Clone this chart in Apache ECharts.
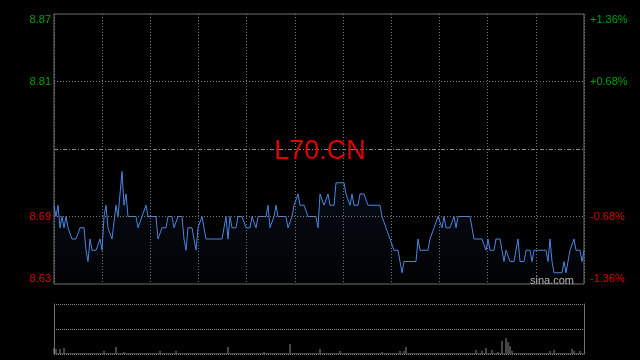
<!DOCTYPE html>
<html>
<head>
<meta charset="utf-8">
<script src="https://cdn.jsdelivr.net/npm/echarts@6/dist/echarts.min.js"></script>
<style>
html,body{margin:0;padding:0;background:#000;}
#c{width:640px;height:360px;}
</style>
</head>
<body>
<div id="c"></div>
<script>
const symbol = 'L70.CN';
const watermark = 'sina.com';
const prevClose = 8.75;
const priceTicks = [8.63, 8.69, 8.81, 8.87];
const pctTicks = [-1.36, -0.68, 0.68, 1.36];

const price = [
  8.70,8.69,8.70,8.68,8.69,8.68,8.69,8.68,8.68,8.67,
  8.67,8.67,8.67,8.68,8.68,8.68,8.66,8.65,8.67,8.66,
  8.66,8.66,8.66,8.67,8.66,8.69,8.70,8.68,8.68,8.67,
  8.67,8.70,8.69,8.71,8.73,8.70,8.71,8.69,8.69,8.69,
  8.69,8.69,8.68,8.68,8.69,8.69,8.70,8.69,8.69,8.69,
  8.69,8.69,8.67,8.67,8.68,8.68,8.68,8.69,8.69,8.69,
  8.68,8.68,8.69,8.69,8.69,8.67,8.66,8.68,8.68,8.68,
  8.67,8.66,8.68,8.68,8.69,8.68,8.67,8.67,8.67,8.67,
  8.67,8.67,8.67,8.67,8.67,8.68,8.69,8.67,8.69,8.68,
  8.68,8.68,8.69,8.69,8.69,8.69,8.68,8.68,8.68,8.69,
  8.69,8.68,8.69,8.69,8.69,8.69,8.69,8.70,8.68,8.68,
  8.69,8.70,8.69,8.69,8.69,8.69,8.69,8.68,8.68,8.69,
  8.70,8.70,8.71,8.70,8.70,8.70,8.70,8.69,8.69,8.69,
  8.69,8.69,8.68,8.71,8.71,8.70,8.70,8.71,8.70,8.70,
  8.70,8.72,8.72,8.72,8.72,8.72,8.71,8.71,8.70,8.71,
  8.70,8.70,8.70,8.71,8.71,8.71,8.71,8.70,8.70,8.70,
  8.70,8.70,8.70,8.70,8.69,8.69,8.68,8.68,8.67,8.67,
  8.66,8.66,8.66,8.65,8.64,8.65,8.65,8.65,8.65,8.65,
  8.65,8.65,8.67,8.66,8.66,8.66,8.66,8.66,8.67,8.67,
  8.68,8.68,8.69,8.69,8.68,8.69,8.68,8.68,8.68,8.68,
  8.69,8.68,8.69,8.69,8.69,8.69,8.69,8.69,8.69,8.69,
  8.67,8.67,8.67,8.67,8.67,8.67,8.66,8.67,8.66,8.66,
  8.66,8.67,8.67,8.67,8.66,8.65,8.66,8.66,8.65,8.65,
  8.65,8.66,8.67,8.65,8.65,8.65,8.66,8.66,8.66,8.65,
  8.66,8.66,8.66,8.66,8.66,8.66,8.66,8.65,8.67,8.65,
  8.64,8.64,8.64,8.64,8.64,8.65,8.64,8.65,8.66,8.66,
  8.67,8.66,8.66,8.66,8.65,8.66
];

const volume = [
  6,5,1,5,1,6,1,1,1,1,
  1,1,1,1,1,1,1,1,1,1,
  1,1,1,1,1,3,1,1,1,1,
  1,7,1,1,1,2,1,1,1,1,
  1,1,1,1,1,1,1,1,1,1,
  1,1,1,3,1,1,1,1,1,1,
  1,3,1,1,1,1,1,1,1,1,
  1,1,1,1,1,1,1,1,1,1,
  1,1,1,1,1,1,1,7,1,1,
  1,1,1,1,1,1,1,1,1,1,
  1,1,1,1,1,2,1,1,1,1,
  1,1,1,1,1,1,1,1,10,1,
  1,1,1,1,1,1,1,1,1,1,
  1,1,1,5,1,1,1,1,1,1,
  1,1,1,3,1,1,1,1,1,1,
  1,1,1,1,1,1,1,1,1,1,
  1,1,1,1,2,1,1,1,1,1,
  1,1,1,3,1,3,7,1,1,1,
  1,1,1,1,1,1,1,1,1,1,
  1,1,1,1,1,1,1,1,1,1,
  1,1,1,1,1,1,1,1,1,1,
  1,4,1,1,3,1,6,1,1,4,
  1,1,2,1,13,1,16,12,8,3,
  1,1,1,1,1,1,1,1,1,1,
  1,1,1,1,1,1,1,1,3,1,
  4,1,1,1,1,1,1,1,1,5,
  3,1,1,3,1,1
];

const cats = price.map((_, i) => i);
const FONT = '"Liberation Sans", Arial, sans-serif';
const GREEN = '#00a000';
const RED = '#e00000';

const chart = echarts.init(document.getElementById('c'), null, {renderer: 'canvas'});

const innerTicks = priceTicks.filter(v => v > priceTicks[0] && v < priceTicks[priceTicks.length - 1]);
const markLines = innerTicks.map(v => ({yAxis: v, lineStyle: {type: [1, 2], color: '#7a7a7a', width: 1}}));
markLines.push({yAxis: prevClose, lineStyle: {type: [4, 2, 1, 2], color: '#8a8a8a', width: 1}});

chart.setOption({
  backgroundColor: '#000',
  animation: false,
  grid: [
    {left: 54, top: 14, width: 530, height: 270, show: true, borderColor: '#707070', borderWidth: 1, backgroundColor: 'transparent'},
    {left: 54, top: 304, width: 530, height: 50, show: false}
  ],
  xAxis: [
    {type: 'category', gridIndex: 0, data: cats, boundaryGap: false, show: false},
    {type: 'value', gridIndex: 0, min: 0, max: 11, interval: 1,
      axisLine: {show: false}, axisTick: {show: false}, axisLabel: {show: false},
      splitLine: {show: true, lineStyle: {color: '#7a7a7a', type: [1, 2], width: 1}}},
    {type: 'category', gridIndex: 1, data: cats, boundaryGap: false, show: false}
  ],
  yAxis: [
    {type: 'value', gridIndex: 0, min: priceTicks[0], max: priceTicks[priceTicks.length - 1], position: 'left',
      axisLine: {show: false}, axisTick: {show: false}, splitLine: {show: false},
      axisLabel: {
        customValues: priceTicks,
        formatter: v => Number(v).toFixed(2),
        color: v => Number(v) > prevClose ? GREEN : RED,
        fontSize: 11, fontFamily: FONT, margin: 3,
        verticalAlignMinLabel: 'bottom', verticalAlignMaxLabel: 'top'
      }},
    {type: 'value', gridIndex: 0, min: pctTicks[0], max: pctTicks[pctTicks.length - 1], position: 'right',
      axisLine: {show: false}, axisTick: {show: false}, splitLine: {show: false},
      axisLabel: {
        customValues: pctTicks,
        formatter: v => (Number(v) > 0 ? '+' : '') + Number(v).toFixed(2) + '%',
        color: v => Number(v) > 0 ? GREEN : RED,
        fontSize: 11, fontFamily: FONT, margin: 6,
        verticalAlignMinLabel: 'bottom', verticalAlignMaxLabel: 'top'
      }},
    {type: 'value', gridIndex: 1, min: 0, max: 50, interval: 25, position: 'left',
      axisLine: {show: true, lineStyle: {color: '#707070', width: 1}},
      axisTick: {show: false}, axisLabel: {show: false},
      splitLine: {show: true, lineStyle: {color: '#8a8a8a', type: [1, 1], width: 1}}},
    {type: 'value', gridIndex: 1, min: 0, max: 50, position: 'right',
      axisLine: {show: true, lineStyle: {color: '#707070', width: 1}},
      axisTick: {show: false}, axisLabel: {show: false}, splitLine: {show: false}}
  ],
  graphic: [
    {type: 'text', x: 320, y: 152, z: 100,
      style: {text: symbol, fill: RED, fontSize: 27, fontFamily: FONT, align: 'center', verticalAlign: 'middle'}},
    {type: 'text', x: 574, y: 286, z: 100,
      style: {text: watermark, fill: '#b8b8b8', fontSize: 11, fontFamily: FONT, align: 'right', verticalAlign: 'bottom'}}
  ],
  series: [
    {type: 'line', xAxisIndex: 0, yAxisIndex: 0, data: price, symbol: 'none', showSymbol: false,
      lineStyle: {color: '#4a86e0', width: 1},
      areaStyle: {origin: 'start', color: new echarts.graphic.LinearGradient(0, 0, 0, 1, [
        {offset: 0, color: 'rgba(60,110,200,0.16)'},
        {offset: 1, color: 'rgba(60,110,200,0.03)'}
      ])},
      markLine: {silent: true, symbol: 'none', label: {show: false}, animation: false, data: markLines}
    },
    {type: 'bar', xAxisIndex: 2, yAxisIndex: 2, data: volume, barWidth: 1,
      itemStyle: {color: '#8a8a8a'}}
  ]
});
</script>
</body>
</html>
